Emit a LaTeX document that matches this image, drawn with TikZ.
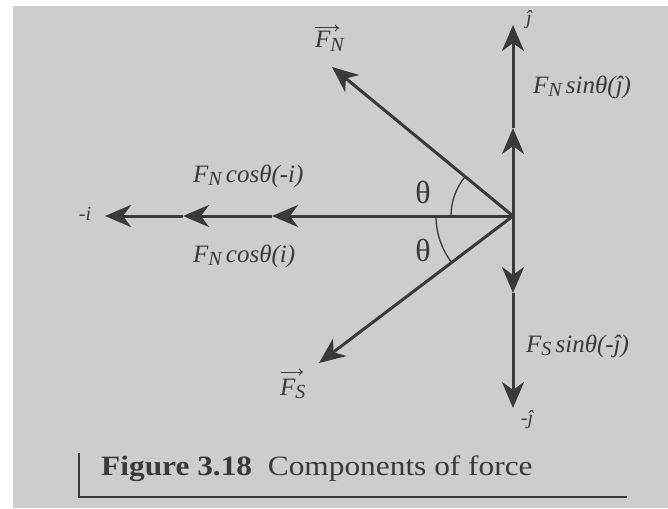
\documentclass[tikz,border=0pt]{standalone}
\usepackage{fontspec}
\setmainfont{Liberation Serif}
\newfontfamily\capfont[FakeStretch=1.12]{Liberation Serif}
\usetikzlibrary{arrows.meta}
\definecolor{bg}{RGB}{205,205,205}
\definecolor{ink}{RGB}{58,58,58}
\newcommand\lsub[1]{\raisebox{-0.32ex}{\fontsize{20}{20}\selectfont\itshape #1}}
\begin{document}
\begin{tikzpicture}[x=1pt,y=-1pt,
  vec/.style={draw=ink, line width=3pt, -{Stealth[length=26pt,width=22pt,inset=8pt]}},
  vmark/.style={draw=ink, line width=1pt, -{To[length=4pt,width=7pt]}},
  lbl/.style={text=ink, font=\fontsize{25}{30}\selectfont\itshape, inner sep=0pt},
  sml/.style={text=ink, font=\fontsize{20}{24}\selectfont\itshape, inner sep=0pt},
  ang/.style={draw=ink, line width=1.3pt},
  th/.style={text=ink, font=\fontsize{32}{36}\selectfont, inner sep=0pt}]
\useasboundingbox (0,0) rectangle (668,508);
\fill[white] (0,0) rectangle (668,508);
\fill[bg] (13,6) rectangle (668,508);
% points
\coordinate (O) at (513,216);
\coordinate (up1) at (513,128);
\coordinate (up2) at (513,25);
\coordinate (dn1) at (513,293);
\coordinate (dn2) at (513,408);
\coordinate (l1) at (272,216);
\coordinate (l2) at (183,216);
\coordinate (l3) at (105,216);
\coordinate (fn) at (332,67);
\coordinate (fs) at (319,363);
% arrows
\draw[vec] (O) -- (up1);
\draw[vec] (up1) -- (up2);
\draw[vec] (O) -- (dn1);
\draw[vec] (dn1) -- (dn2);
\draw[vec] (O) -- (l1);
\draw[vec] (l1) -- (l2);
\draw[vec] (l2) -- (l3);
\draw[vec] (O) -- (fn);
\draw[vec] (O) -- (fs);
% angle arcs
\draw[ang] (O) ++(180:62) arc[start angle=180,end angle=219.5,radius=62];
\draw[ang] (O) ++(180:77) arc[start angle=180,end angle=142.8,radius=77];
\node[th] (t1) at (423,192) {θ};
\node[th] (t2) at (423,250) {θ};
% vector labels
\node[lbl, anchor=base west] (fnvec) at (315,48) {F\lsub{N}};
\node[lbl, anchor=base west] (fsvec) at (280,395) {F\lsub{S}};
\coordinate (fna) at (315,28);
\coordinate (fnb) at (339,28);
\coordinate (fsa) at (281,372);
\coordinate (fsb) at (303,372);
\draw[vmark] (fna) -- (fnb);
\draw[vmark] (fsa) -- (fsb);
% component labels
\node[lbl, anchor=base west] (fnsin) at (533,93) {F\lsub{N}\,sinθ(ĵ)};
\node[lbl, anchor=base west] (fssin) at (526,352) {F\lsub{S}\,sinθ(-ĵ)};
\node[lbl, anchor=base west] (fncosa) at (193,182) {F\lsub{N}\,cosθ(-i)};
\node[lbl, anchor=base west] (fncosb) at (193,262) {F\lsub{N}\,cosθ(i)};
\node[sml] (mi) at (85,214) {-i};
\node[sml] (jhat) at (529,20) {ĵ};
\node[sml] (mjhat) at (527,420) {-ĵ};
% caption
\coordinate (c1) at (79,453);
\coordinate (c2) at (79,497);
\coordinate (c3) at (627,497);
\draw[ink, line width=2pt] (c1) -- (c2) -- (c3);
\node[anchor=base west, text=ink, inner sep=0pt, font=\capfont\fontsize{28}{32}\selectfont] (cap) at (101,475) {\textbf{Figure 3.18}\ \ Components of force};
\end{tikzpicture}
\end{document}
